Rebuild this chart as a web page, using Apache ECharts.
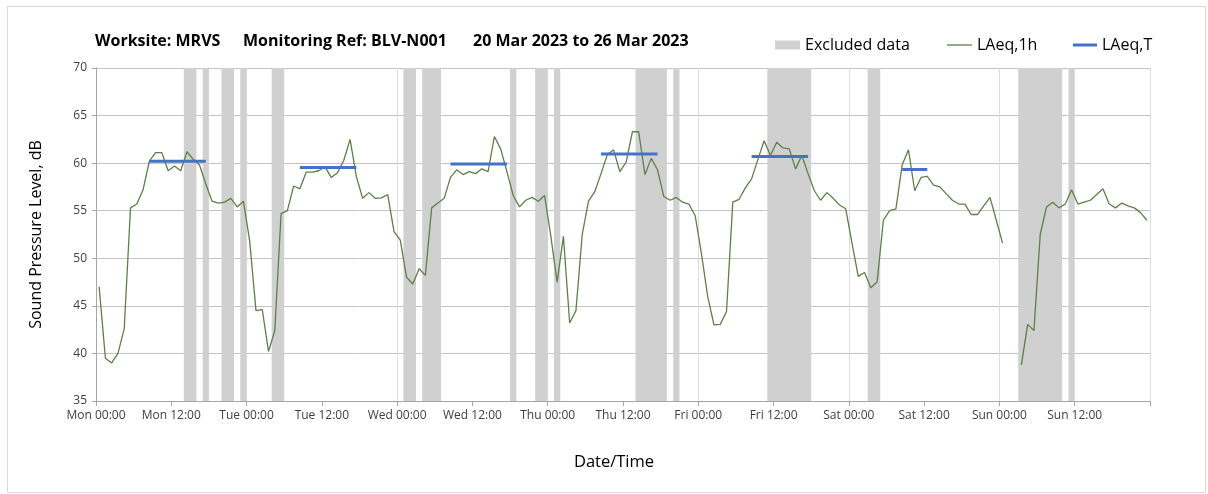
<!DOCTYPE html>
<html>
<head>
<meta charset="utf-8">
<script src="https://cdn.jsdelivr.net/npm/echarts@6/dist/echarts.min.js"></script>
<style>
html,body{margin:0;padding:0;background:#fff;}
#chart{width:1208px;height:494px;}
</style>
</head>
<body>
<div id="chart"></div>
<script>
// Hourly LAeq,1h values, Mon 00:00 .. Sun 23:00 (one per hour, plotted at mid-hour)
const laeq1h = [
  47.0, 39.5, 39.0, 40.0, 42.6, 55.3, 55.7, 57.2, 60.2, 61.1, 61.1, 59.2,
  59.7, 59.2, 61.2, 60.4, 59.8, 57.8, 56.0, 55.8, 55.9, 56.3, 55.4, 56.0,
  51.8, 44.5, 44.6, 40.2, 42.4, 54.7, 55.0, 57.6, 57.3, 59.05, 59.05, 59.2,
  59.6, 58.5, 59.0, 60.3, 62.5, 58.6, 56.3, 56.9, 56.3, 56.35, 56.7, 52.8,
  51.9, 48.0, 47.3, 48.9, 48.2, 55.3, 55.8, 56.3, 58.5, 59.3, 58.8, 59.1,
  58.9, 59.4, 59.1, 62.8, 61.5, 59.1, 56.6, 55.4, 56.1, 56.4, 56.0, 56.6,
  52.3, 47.5, 52.3, 43.2, 44.5, 52.5, 56.0, 57.0, 58.9, 60.9, 61.4, 59.1,
  60.1, 63.3, 63.3, 58.8, 60.5, 59.3, 56.5, 56.1, 56.4, 55.9, 55.7, 54.5,
  50.5, 46.0, 43.0, 43.05, 44.4, 55.9, 56.2, 57.4, 58.35, 60.4, 62.35, 60.8,
  62.2, 61.6, 61.5, 59.4, 60.8, 58.9, 57.1, 56.1, 56.9, 56.3, 55.6, 55.2,
  51.6, 48.1, 48.5, 46.9, 47.5, 54.0, 55.0, 55.2, 59.8, 61.4, 57.1, 58.5,
  58.6, 57.7, 57.5, 56.8, 56.1, 55.7, 55.7, 54.6, 54.6, 55.5, 56.4, 54.0,
  51.6, null, null, 38.8, 43.05, 42.4, 52.5, 55.4, 55.9, 55.3, 55.7, 57.2,
  55.7, 55.9, 56.1, 56.7, 57.3, 55.7, 55.3, 55.8, 55.5, 55.3, 54.8, 54.0
];

// LAeq,T daytime segments (hours from Mon 00:00)
const ltStart = [8.5, 32.5, 56.5, 80.5, 104.5, 128.5];
const ltEnd   = [17.5, 41.5, 65.5, 89.5, 113.5, 132.5];
const ltValue = [60.2, 59.55, 59.9, 60.95, 60.7, 59.33];

// Excluded data periods (hours from Mon 00:00)
const excludedStart = [14, 17, 20, 23, 28, 49, 52, 66, 70, 73, 86, 92, 107, 123, 147, 155];
const excludedEnd   = [16, 18, 22, 24, 30, 51, 55, 67, 72, 74, 91, 93, 114, 125, 154, 156];

// X tick labels every 12 h
const xTickLabels = ['Mon 00:00','Mon 12:00','Tue 00:00','Tue 12:00','Wed 00:00','Wed 12:00',
  'Thu 00:00','Thu 12:00','Fri 00:00','Fri 12:00','Sat 00:00','Sat 12:00','Sun 00:00','Sun 12:00'];

const FONT = 'Open Sans';
const GREEN = '#5e7f4a';
const BLUE = '#4472c4';
const GREY = '#d0d0d0';

const lineData = laeq1h.map((v, i) => [i + 0.5, v == null ? '-' : v]);
const ltData = [];
ltStart.forEach((s, k) => {
  ltData.push([s, ltValue[k]]);
  ltData.push([ltEnd[k], ltValue[k]]);
  ltData.push([ltEnd[k], '-']);
});
const areas = excludedStart.map((s, k) => [{xAxis: s}, {xAxis: excludedEnd[k]}]);

const titleStyle = {fontFamily: FONT, fontSize: 16, fontWeight: 'bold', color: '#000'};
const legendText = {fontFamily: FONT, fontSize: 16, color: '#000'};

const chart = echarts.init(document.getElementById('chart'), null, {renderer: 'canvas'});
chart.setOption({
  animation: false,
  backgroundColor: '#fff',
  textStyle: {fontFamily: FONT},
  graphic: [{
    type: 'rect', left: 5, top: 4, shape: {width: 1198, height: 486},
    style: {fill: 'none', stroke: '#d9d9d9', lineWidth: 1}, silent: true, z: -10
  }],
  title: [
    {text: 'Worksite: MRVS', left: 95, top: 33, padding: 0, textStyle: titleStyle},
    {text: 'Monitoring Ref: BLV-N001', left: 243, top: 33, padding: 0, textStyle: titleStyle},
    {text: '20 Mar 2023 to 26 Mar 2023', left: 473, top: 33, padding: 0, textStyle: titleStyle}
  ],
  legend: [
    {left: 775, top: 37, padding: 0, itemWidth: 25, itemHeight: 9, textStyle: legendText,
     data: [{name: 'Excluded data', icon: 'rect', itemStyle: {color: GREY}}]},
    {left: 947, top: 37, padding: 0, itemWidth: 25, itemHeight: 1.3, textStyle: legendText,
     data: [{name: 'LAeq,1h', icon: 'rect', itemStyle: {color: GREEN}}]},
    {left: 1073, top: 37, padding: 0, itemWidth: 24, itemHeight: 3, textStyle: legendText,
     data: [{name: 'LAeq,T', icon: 'rect', itemStyle: {color: BLUE}}]}
  ],
  grid: {left: 96, right: 58, top: 68, bottom: 93, containLabel: false},
  xAxis: [{
    type: 'value', min: 0, max: 168, interval: 12,
    name: 'Date/Time', nameLocation: 'middle', nameGap: 53,
    nameTextStyle: {fontFamily: FONT, fontSize: 16.5, color: '#000', padding: [0, 18, 0, 0]},
    axisLine: {show: true, lineStyle: {color: '#a6a6a6', width: 1}},
    axisTick: {show: true, length: 5, lineStyle: {color: '#a6a6a6'}},
    axisLabel: {fontFamily: FONT, fontSize: 12, color: '#404040', margin: 9,
      formatter: v => xTickLabels[Math.round(v / 12)] || ''},
    splitLine: {show: false}
  }, {
    type: 'value', min: 0, max: 168, interval: 24, position: 'bottom',
    axisLine: {show: false}, axisTick: {show: false}, axisLabel: {show: false},
    splitLine: {show: true, lineStyle: {color: '#dcdcdc', width: 1}}
  }],
  yAxis: [{
    type: 'value', min: 35, max: 70, interval: 5,
    name: 'Sound Pressure Level, dB', nameLocation: 'middle', nameGap: 52,
    nameTextStyle: {fontFamily: FONT, fontSize: 16, color: '#000'},
    axisLine: {show: true, lineStyle: {color: '#a6a6a6'}},
    axisTick: {show: true, length: 4, lineStyle: {color: '#a6a6a6'}},
    axisLabel: {fontFamily: FONT, fontSize: 12, color: '#404040', margin: 9},
    splitLine: {show: true, lineStyle: {color: '#c4c4c4', width: 1}}
  }, {
    type: 'value', min: 35, max: 70, interval: 5, position: 'right',
    axisLine: {show: true, lineStyle: {color: '#a6a6a6'}},
    axisTick: {show: false}, axisLabel: {show: false}, splitLine: {show: false}
  }],
  series: [
    {
      name: 'Excluded data', type: 'line', data: [], color: GREY, z: 1,
      markArea: {silent: true, itemStyle: {color: GREY, opacity: 1}, data: areas}
    },
    {
      name: 'LAeq,1h', type: 'line', data: lineData, symbol: 'none', showSymbol: false,
      color: GREEN, lineStyle: {width: 1.3, color: GREEN}, connectNulls: false, z: 3
    },
    {
      name: 'LAeq,T', type: 'line', data: ltData, symbol: 'none', showSymbol: false,
      color: BLUE, lineStyle: {width: 3, color: BLUE}, connectNulls: false, z: 4
    }
  ]
});
</script>
</body>
</html>
